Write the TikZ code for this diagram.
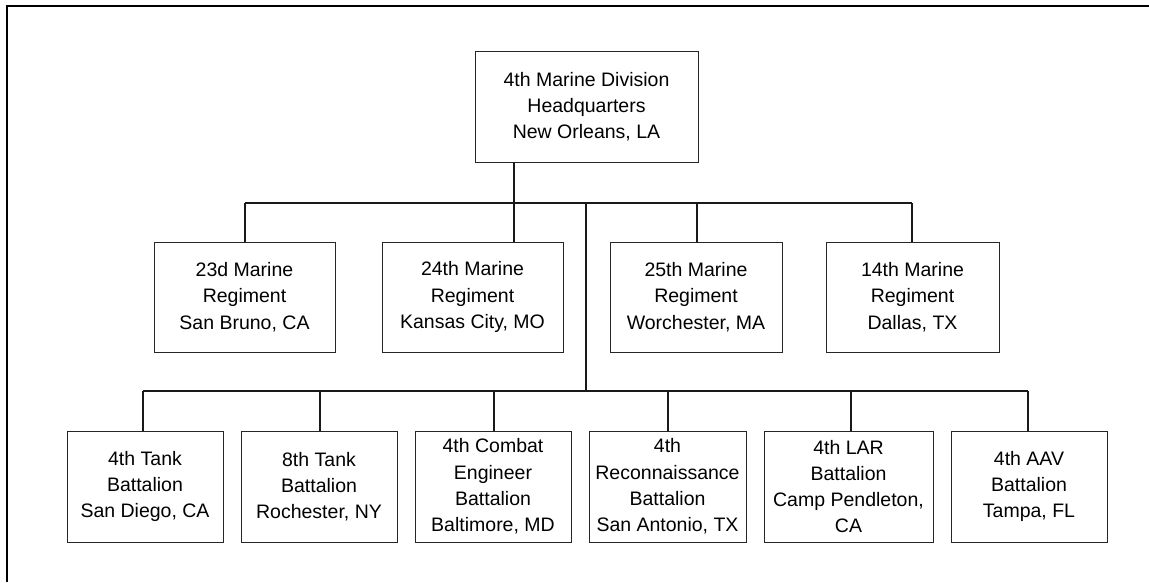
\documentclass[tikz,border=0pt]{standalone}
\usepackage{fontspec}
\setmainfont{Liberation Sans}
\begin{document}
\begin{tikzpicture}[x=1pt,y=-1pt,
  orgbox/.style={draw=black!85, line width=1pt, rectangle, inner sep=0pt, align=center,
    font={\fontsize{19.5}{26.3}\selectfont}},
  conn/.style={draw=black!90, line width=1.3pt}]
\useasboundingbox (0,0) rectangle (1149,582);
\fill[white] (0,0) rectangle (1149,582);
% outer frame
\draw[line width=2pt] (7,582) -- (7,6) -- (1149,6);
% top
\node[orgbox, minimum width=223pt, minimum height=111pt] (hq) at (586.5,106.5) {4th Marine Division\\Headquarters\\New Orleans, LA};
% regiments
\node[orgbox, minimum width=181pt, minimum height=110pt] (r23) at (244.5,297) {23d Marine\\Regiment\\San Bruno, CA};
\node[orgbox, minimum width=181pt, minimum height=110pt] (r24) at (472.5,297) {24th Marine\\Regiment\\Kansas City, MO};
\node[orgbox, minimum width=172pt, minimum height=110pt] (r25) at (696,297) {25th Marine\\Regiment\\Worchester, MA};
\node[orgbox, minimum width=173pt, minimum height=110pt] (r14) at (912.5,297) {14th Marine\\Regiment\\Dallas, TX};
% battalions
\node[orgbox, minimum width=156pt, minimum height=111pt] (t4) at (145,486.5) {4th Tank\\Battalion\\San Diego, CA};
\node[orgbox, minimum width=156pt, minimum height=111pt] (t8) at (319,486.5) {8th Tank\\Battalion\\Rochester, NY};
\node[orgbox, minimum width=156pt, minimum height=111pt] (ce) at (493,486.5) {4th Combat\\Engineer\\Battalion\\Baltimore, MD};
\node[orgbox, minimum width=157pt, minimum height=111pt] (rc) at (667.5,486.5) {4th\\Reconnaissance\\Battalion\\San Antonio, TX};
\node[orgbox, minimum width=169pt, minimum height=111pt] (lar) at (848.5,486.5) {4th LAR\\Battalion\\Camp Pendleton,\\CA};
\node[orgbox, minimum width=156pt, minimum height=111pt] (aav) at (1029,486.5) {4th AAV\\Battalion\\Tampa, FL};
% upper bus points
\coordinate (u1) at (245,203);
\coordinate (u2) at (514,203);
\coordinate (u3) at (586,203);
\coordinate (u4) at (697,203);
\coordinate (u5) at (912,203);
% lower bus points
\coordinate (l1) at (143,391);
\coordinate (l2) at (320,391);
\coordinate (l3) at (494,391);
\coordinate (l4) at (586,391);
\coordinate (l5) at (668,391);
\coordinate (l6) at (851,391);
\coordinate (l7) at (1028,391);
% connectors upper
\draw[conn] (hq.south -| u2) -- (u2);
\draw[conn] (u1) -- (u5);
\draw[conn] (u1) -- (r23.north -| u1);
\draw[conn] (u2) -- (r24.north -| u2);
\draw[conn] (u4) -- (r25.north -| u4);
\draw[conn] (u5) -- (r14.north -| u5);
\draw[conn] (u3) -- (l4);
% connectors lower
\draw[conn] (l1) -- (l7);
\draw[conn] (l1) -- (t4.north -| l1);
\draw[conn] (l2) -- (t8.north -| l2);
\draw[conn] (l3) -- (ce.north -| l3);
\draw[conn] (l5) -- (rc.north -| l5);
\draw[conn] (l6) -- (lar.north -| l6);
\draw[conn] (l7) -- (aav.north -| l7);
\end{tikzpicture}
\end{document}
